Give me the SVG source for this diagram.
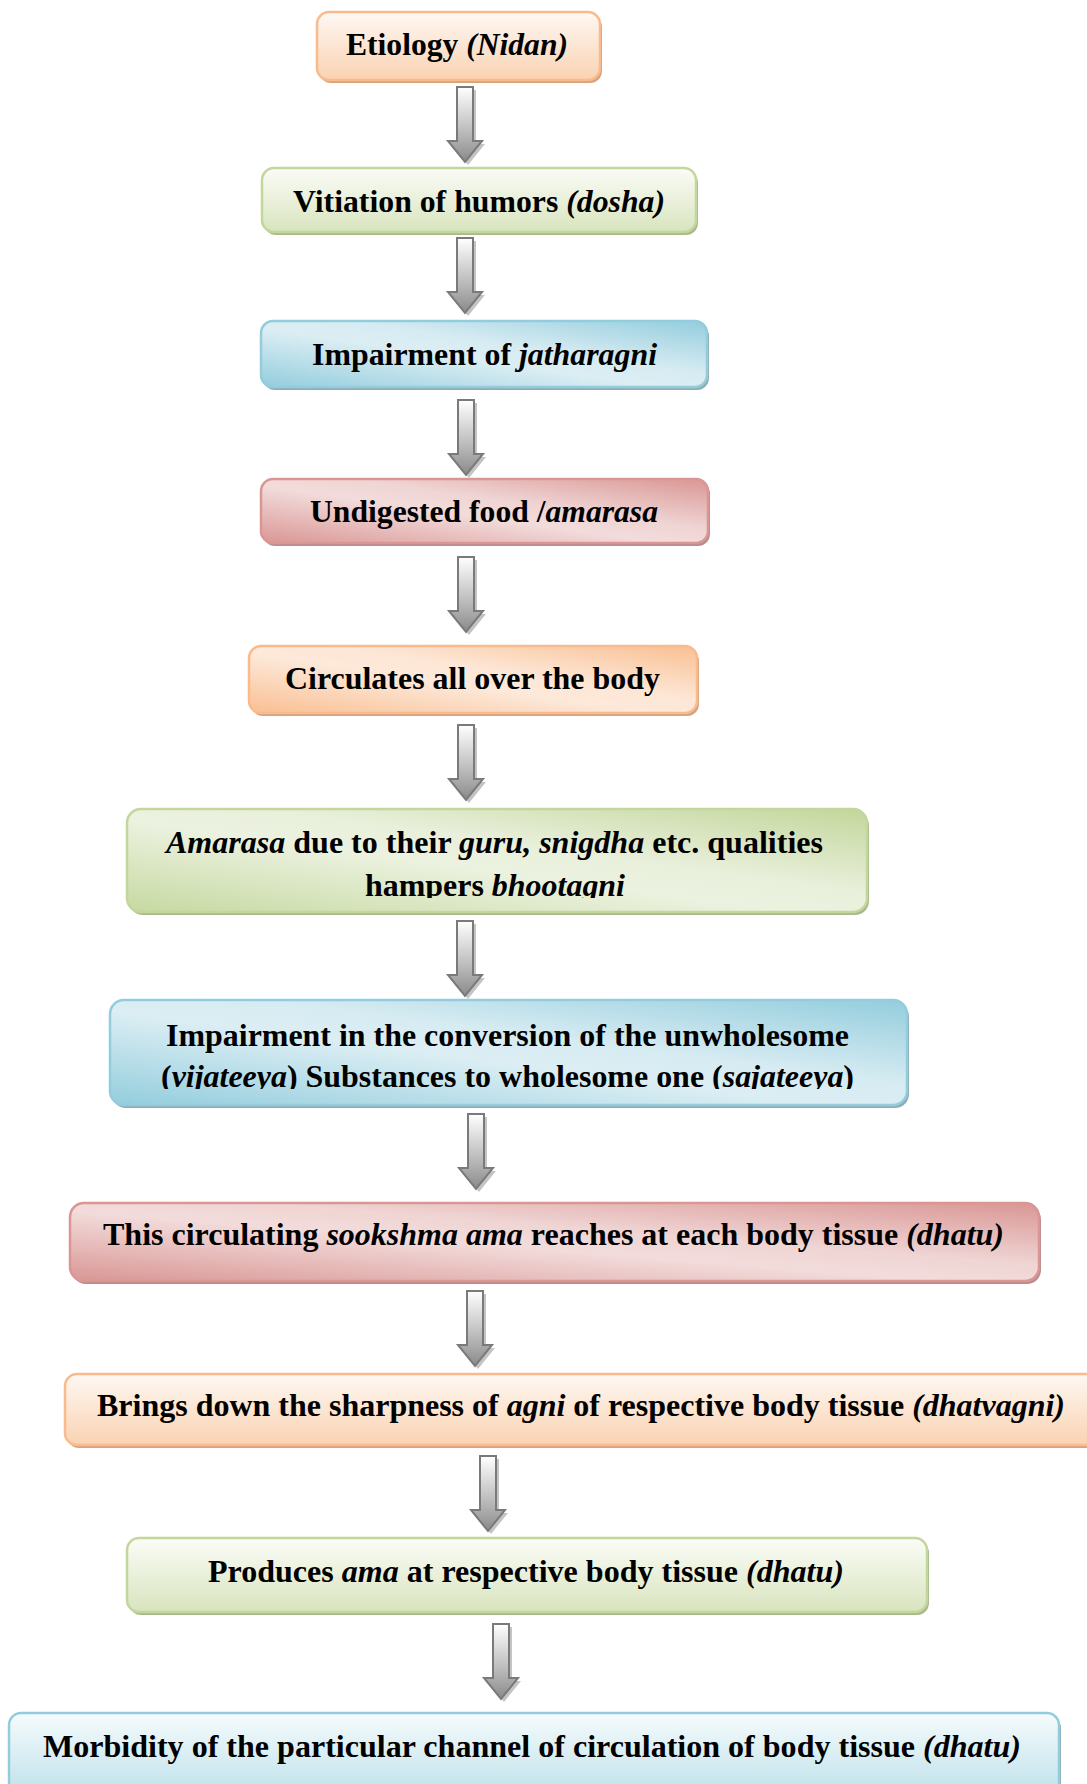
<svg xmlns="http://www.w3.org/2000/svg" xmlns:xlink="http://www.w3.org/1999/xlink" width="1087" height="1784" viewBox="0 0 1087 1784">
<style>
.t{font-family:"Liberation Serif","Times New Roman",serif;font-weight:bold;font-size:32px;fill:#000}
.i{font-style:italic}
.box{stroke-width:2.5}
.or{stroke:#f9bb8c}
.gr{stroke:#c3d69b}
.bl{stroke:#93cddd}
.rd{stroke:#d99694}
.sh-or{fill:#d6a27f}
.sh-gr{fill:#a9b98d}
.sh-bl{fill:#8fadb5}
.sh-rd{fill:#bb8d8c}
.arr{fill:url(#gArr);stroke:#7a7a7a;stroke-width:2}
.arrsh{fill:#c4c4c4}
</style>
<defs>
<linearGradient id="vOr" x1="0" y1="0" x2="0" y2="1"><stop offset="0" stop-color="#fef8f3"/><stop offset="1" stop-color="#fad2b2"/></linearGradient>
<linearGradient id="vGr" x1="0" y1="0" x2="0" y2="1"><stop offset="0" stop-color="#fbfcf7"/><stop offset="1" stop-color="#d8e4be"/></linearGradient>
<linearGradient id="vBl" x1="0" y1="0" x2="0" y2="1"><stop offset="0" stop-color="#f6fbfc"/><stop offset="1" stop-color="#b9dfe9"/></linearGradient>
<linearGradient id="dOr" x1="0" y1="1" x2="1" y2="0"><stop offset="0" stop-color="#f9bf92"/><stop offset="0.45" stop-color="#fde9da"/><stop offset="0.6" stop-color="#fde6d5"/><stop offset="1" stop-color="#f9bf92"/></linearGradient>
<linearGradient id="dGr" x1="0" y1="1" x2="1" y2="0"><stop offset="0" stop-color="#c6d9a1"/><stop offset="0.45" stop-color="#ecf2e0"/><stop offset="0.6" stop-color="#e8efda"/><stop offset="1" stop-color="#c3d69b"/></linearGradient>
<linearGradient id="dBl" x1="0" y1="1" x2="1" y2="0"><stop offset="0" stop-color="#93cddd"/><stop offset="0.45" stop-color="#dceef4"/><stop offset="0.6" stop-color="#d6ebf2"/><stop offset="1" stop-color="#93cddd"/></linearGradient>
<linearGradient id="dRd" x1="0" y1="1" x2="1" y2="0"><stop offset="0" stop-color="#d99694"/><stop offset="0.45" stop-color="#f2dcdb"/><stop offset="0.6" stop-color="#efd5d4"/><stop offset="1" stop-color="#d99694"/></linearGradient>
<linearGradient id="gArr" x1="0" y1="0" x2="0" y2="1"><stop offset="0" stop-color="#ffffff"/><stop offset="0.65" stop-color="#b5b5b5"/><stop offset="1" stop-color="#8a8a8a"/></linearGradient>
<path id="arrow" d="M-8,0 H8 V54 H17 L0,75 L-17,54 H-8 Z"/>
<clipPath id="clip6"><rect x="120" y="800" width="760" height="98"/></clipPath>
<clipPath id="clip7"><rect x="100" y="995" width="820" height="94"/></clipPath>
</defs>

<g id="connectors">
<use href="#arrow" class="arrsh" x="468" y="90"/><use href="#arrow" class="arr" x="465" y="87"/>
<use href="#arrow" class="arrsh" x="468" y="241"/><use href="#arrow" class="arr" x="465" y="238"/>
<use href="#arrow" class="arrsh" x="469" y="403"/><use href="#arrow" class="arr" x="466" y="400"/>
<use href="#arrow" class="arrsh" x="469" y="560"/><use href="#arrow" class="arr" x="466" y="557"/>
<use href="#arrow" class="arrsh" x="469" y="728"/><use href="#arrow" class="arr" x="466" y="725"/>
<use href="#arrow" class="arrsh" x="468" y="924"/><use href="#arrow" class="arr" x="465" y="921"/>
<use href="#arrow" class="arrsh" x="479" y="1117"/><use href="#arrow" class="arr" x="476" y="1114"/>
<use href="#arrow" class="arrsh" x="478" y="1294"/><use href="#arrow" class="arr" x="475" y="1291"/>
<use href="#arrow" class="arrsh" x="491" y="1459"/><use href="#arrow" class="arr" x="488" y="1456"/>
<use href="#arrow" class="arrsh" x="504" y="1627"/><use href="#arrow" class="arr" x="501" y="1624"/>
</g>

<g id="n1">
<rect x="319" y="15" width="283" height="68" rx="12" class="sh-or"/>
<rect x="317" y="12" width="283" height="68" rx="12" class="box or" fill="url(#vOr)"/>
<text class="t" x="346" y="55" textLength="222" lengthAdjust="spacingAndGlyphs">Etiology <tspan class="i">(Nidan)</tspan></text>
</g>

<g id="n2">
<rect x="264" y="171" width="434" height="64" rx="12" class="sh-gr"/>
<rect x="262" y="168" width="434" height="64" rx="12" class="box gr" fill="url(#vGr)"/>
<text class="t" x="293" y="212" textLength="372" lengthAdjust="spacingAndGlyphs">Vitiation of humors <tspan class="i">(dosha)</tspan></text>
</g>

<g id="n3">
<rect x="263" y="324" width="446" height="66" rx="12" class="sh-bl"/>
<rect x="261" y="321" width="446" height="66" rx="12" class="box bl" fill="url(#dBl)"/>
<text class="t" x="312" y="365" textLength="345" lengthAdjust="spacingAndGlyphs">Impairment of <tspan class="i">jatharagni</tspan></text>
</g>

<g id="n4">
<rect x="263" y="482" width="447" height="64" rx="12" class="sh-rd"/>
<rect x="261" y="479" width="447" height="64" rx="12" class="box rd" fill="url(#dRd)"/>
<text class="t" x="310" y="522" textLength="348" lengthAdjust="spacingAndGlyphs">Undigested food /<tspan class="i">amarasa</tspan></text>
</g>

<g id="n5">
<rect x="251" y="649" width="448" height="67" rx="12" class="sh-or"/>
<rect x="249" y="646" width="448" height="67" rx="12" class="box or" fill="url(#dOr)"/>
<text class="t" x="285" y="689" textLength="375" lengthAdjust="spacingAndGlyphs">Circulates all over the body</text>
</g>

<g id="n6">
<rect x="129" y="812" width="740" height="103" rx="14" class="sh-gr"/>
<rect x="127" y="809" width="740" height="103" rx="14" class="box gr" fill="url(#dGr)"/>
<g clip-path="url(#clip6)">
<text class="t" x="166" y="853" textLength="657" lengthAdjust="spacingAndGlyphs"><tspan class="i">Amarasa</tspan> due to their <tspan class="i">guru, snigdha</tspan> etc. qualities</text>
<text class="t" x="365" y="896" textLength="260" lengthAdjust="spacingAndGlyphs">hampers <tspan class="i">bhootagni</tspan></text>
</g>
</g>

<g id="n7">
<rect x="112" y="1003" width="797" height="105" rx="14" class="sh-bl"/>
<rect x="110" y="1000" width="797" height="105" rx="14" class="box bl" fill="url(#dBl)"/>
<g clip-path="url(#clip7)">
<text class="t" x="166" y="1046" textLength="683" lengthAdjust="spacingAndGlyphs">Impairment in the conversion of the unwholesome</text>
<text class="t" x="161" y="1087" textLength="693" lengthAdjust="spacingAndGlyphs">(<tspan class="i">vijateeya</tspan>) Substances to wholesome one (<tspan class="i">sajateeya</tspan>)</text>
</g>
</g>

<g id="n8">
<rect x="72" y="1206" width="969" height="78" rx="14" class="sh-rd"/>
<rect x="70" y="1203" width="969" height="78" rx="14" class="box rd" fill="url(#dRd)"/>
<text class="t" x="103" y="1245" textLength="901" lengthAdjust="spacingAndGlyphs">This circulating <tspan class="i">sookshma ama</tspan> reaches at each body tissue <tspan class="i">(dhatu)</tspan></text>
</g>

<g id="n9">
<rect x="67" y="1377" width="1040" height="71" rx="12" class="sh-or"/>
<rect x="65" y="1374" width="1040" height="71" rx="12" class="box or" fill="url(#vOr)"/>
<text class="t" x="97" y="1416" textLength="968" lengthAdjust="spacingAndGlyphs">Brings down the sharpness of <tspan class="i">agni</tspan> of respective body tissue <tspan class="i">(dhatvagni)</tspan></text>
</g>

<g id="n10">
<rect x="129" y="1541" width="800" height="74" rx="12" class="sh-gr"/>
<rect x="127" y="1538" width="800" height="74" rx="12" class="box gr" fill="url(#vGr)"/>
<text class="t" x="208" y="1582" textLength="636" lengthAdjust="spacingAndGlyphs">Produces <tspan class="i">ama</tspan> at respective body tissue <tspan class="i">(dhatu)</tspan></text>
</g>

<g id="n11">
<rect x="11" y="1716" width="1050" height="90" rx="12" class="sh-bl"/>
<rect x="9" y="1713" width="1050" height="90" rx="12" class="box bl" fill="url(#vBl)"/>
<text class="t" x="43" y="1757" textLength="978" lengthAdjust="spacingAndGlyphs">Morbidity of the particular channel of circulation of body tissue <tspan class="i">(dhatu)</tspan></text>
</g>
</svg>
